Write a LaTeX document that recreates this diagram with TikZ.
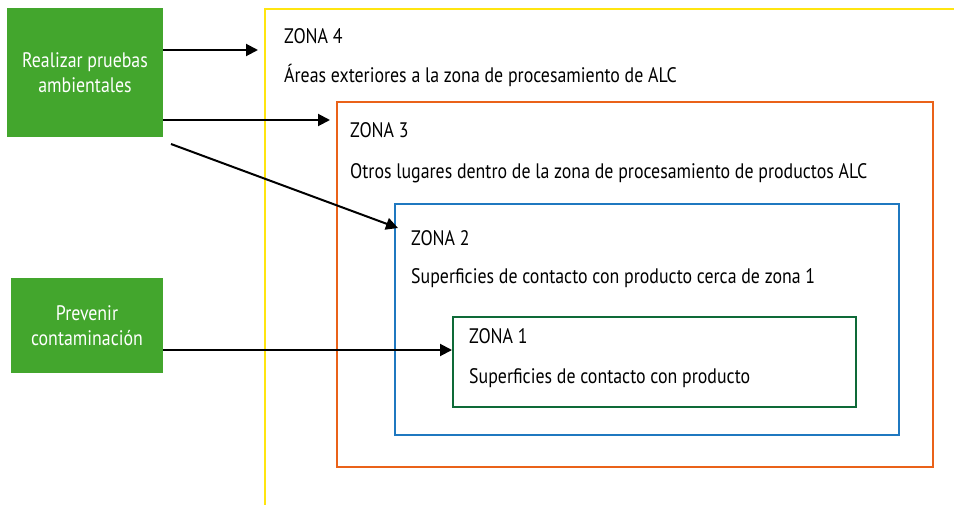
\documentclass[tikz,border=0pt]{standalone}
\usepackage{fontspec}
\setmainfont{PT Sans}[FakeStretch=0.85]
\usetikzlibrary{arrows.meta}
\definecolor{boxgreen}{HTML}{43A62D}
\definecolor{zyellow}{HTML}{FFE510}
\definecolor{zorange}{HTML}{EA6219}
\definecolor{zblue}{HTML}{1F78C0}
\definecolor{zdgreen}{HTML}{0E6A38}
\tikzset{
  actionbox/.style={fill=boxgreen, text=white, align=center, inner sep=0pt,
    font=\fontsize{21}{25}\selectfont},
  zonebox/.style={line width=2pt, inner sep=0pt},
  zonetext/.style={anchor=base west, inner sep=0pt, font=\fontsize{21}{24}\selectfont},
  link/.style={line width=2pt, -{Triangle[length=12pt,width=12pt]}}
}
\begin{document}
\begin{tikzpicture}[x=1pt,y=-1pt]
\useasboundingbox (0,0) rectangle (954,504);
\clip (0,0) rectangle (954,504);
% zones
\node[zonebox, draw=zyellow, minimum width=720pt, minimum height=520pt, anchor=north west] (z4) at (264,8) {};
\node[zonebox, draw=zorange, minimum width=596pt, minimum height=365pt, anchor=north west] (z3) at (336,101) {};
\node[zonebox, draw=zblue, minimum width=504pt, minimum height=231pt, anchor=north west] (z2) at (394,203) {};
\node[zonebox, draw=zdgreen, minimum width=403pt, minimum height=90pt, anchor=north west] (z1) at (452,316) {};
% zone texts
\node[zonetext] (t4a) at (284,43) {ZONA 4};
\node[zonetext] (t4b) at (284,82) {Áreas exteriores a la zona de procesamiento de ALC};
\node[zonetext] (t3a) at (350,137) {ZONA 3};
\node[zonetext] (t3b) at (350,178) {Otros lugares dentro de la zona de procesamiento de productos ALC};
\node[zonetext] (t2a) at (411,245) {ZONA 2};
\node[zonetext] (t2b) at (411,283) {Superficies de contacto con producto cerca de zona 1};
\node[zonetext] (t1a) at (469,343) {ZONA 1};
\node[zonetext] (t1b) at (469,383) {Superficies de contacto con producto};
% action boxes
\node[actionbox, minimum width=156pt, minimum height=129pt] (a1) at (85,72.5) {Realizar pruebas\\ambientales};
\node[actionbox, minimum width=152pt, minimum height=95pt] (a2) at (87,325.5) {Prevenir\\contaminación};
% arrow endpoints
\coordinate (s1) at (a1.east |- 0,50);
\coordinate (e1) at (258,50);
\coordinate (s2) at (a1.east |- 0,120);
\coordinate (e2) at (330,120);
\coordinate (s3) at (171,144);
\coordinate (e3) at (398,228);
\coordinate (s4) at (a2.east |- 0,350);
\coordinate (e4) at (z1.west |- 0,350);
\draw[link] (s1) -- (e1);
\draw[link] (s2) -- (e2);
\draw[link] (s3) -- (e3);
\draw[link] (s4) -- (e4);
\end{tikzpicture}
\end{document}
